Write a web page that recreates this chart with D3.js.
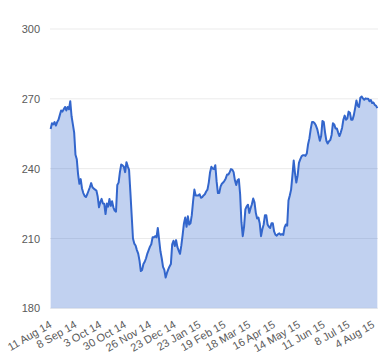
<!DOCTYPE html>
<html>
<head>
<meta charset="utf-8">
<script src="https://cdn.jsdelivr.net/npm/d3@7/dist/d3.min.js"></script>
<style>
  html, body { margin: 0; padding: 0; background: #fff; }
  svg { display: block; }
  text { font-family: Arial, "Liberation Sans", sans-serif; }
</style>
</head>
<body>
<svg id="chart" width="380" height="360"></svg>
<script>
// ---- data ----
const tickLabels = ["11 Aug 14","8 Sep 14","3 Oct 14","30 Oct 14","26 Nov 14","23 Dec 14",
  "23 Jan 15","19 Feb 15","18 Mar 15","16 Apr 15","14 May 15","11 Jun 15","8 Jul 15","4 Aug 15"];
const tickEvery = 19;
const yTicks = [180, 210, 240, 270, 300];
const prices = [
  257, 259.5, 259, 260, 258.5, 260, 261, 263, 265, 264.5,
  265.5, 266.5, 265, 266.5, 265.5, 269, 262.5, 259, 255.5, 246,
  244, 237.5, 233.5, 235.5, 231.5, 229.5, 228.3, 227.8, 229, 230.5,
  232, 233.8, 232, 231.4, 231, 230.6, 228, 223.4, 225.6, 227,
  225, 224.9, 220.5, 225, 223.7, 227, 224, 226, 223.4, 222,
  221.5, 233, 234, 238.5, 241.8, 241.4, 240.8, 238.5, 242.8, 241,
  239.5, 230, 220, 210, 207.8, 207, 205, 203.5, 200.5, 196,
  196.5, 199, 200, 201.5, 203.5, 205, 206.5, 207.5, 210.5, 210.5,
  211, 210.5, 214.5, 209.5, 204.5, 201.5, 197.8, 196.5, 193.2, 195.2,
  196.7, 198, 199, 207.5, 209, 206.8, 209.3, 206.3, 204.8, 203.4,
  207, 211.5, 216.5, 219, 215, 219.5, 216, 216.5, 220, 226,
  231, 228.5, 228.5, 228.5, 229, 227.5, 227.8, 228.5, 229, 230.2,
  231, 234, 238.5, 240.8, 240, 239.8, 241.5, 234.5, 229.5, 229.5,
  232.3, 233.5, 234, 234.8, 235.8, 237.5, 237.5, 238.5, 239.8, 239.6,
  238.5, 235, 233, 235, 235.5, 229, 217, 211, 215, 222.5,
  223.8, 224.5, 221, 223, 224.7, 227.2, 225.5, 221, 218.6, 219,
  216.5, 211, 214, 216, 220, 220, 216, 215, 214.5, 216.5,
  216.5, 213, 211.6, 211.2, 211.9, 212.2, 211.6, 211.9, 211.5, 214.8,
  216, 215.5, 226.3, 228.5, 231, 237, 243.5, 238, 234, 237,
  242.5, 244, 245.3, 245.8, 245.8, 245.5, 246.5, 250.5, 253, 257,
  260, 260, 259.5, 258.5, 257, 254.5, 252, 254, 260.5, 260,
  255.5, 252, 250.8, 251.8, 252.3, 254.5, 259.5, 259, 257.3, 257.3,
  255.5, 254, 255.5, 257.5, 261, 262.8, 261, 261.5, 264.5, 264,
  261, 261, 263, 266, 269.3, 267, 266.5, 270.5, 271, 270.2,
  269.6, 270.2, 270, 270, 269, 269.5, 268.2, 268.4, 267.4, 267,
  266
];

// ---- layout ----
const svg = d3.select("#chart");
const plot = { left: 50, right: 378, top: 29, bottom: 308.3 };

const idx = d3.range(prices.length);
const x = d3.scalePoint().domain(idx).range([plot.left, plot.right]).padding(0.5);
const y = d3.scaleLinear().domain([180, 300]).range([plot.bottom, plot.top]);

// gridlines
svg.append("g")
  .selectAll("line")
  .data(yTicks)
  .join("line")
  .attr("x1", plot.left).attr("x2", plot.right)
  .attr("y1", d => y(d)).attr("y2", d => y(d))
  .attr("stroke", "#ebebeb").attr("stroke-width", 1);

// area
const area = d3.area()
  .x((d, i) => x(i))
  .y0(y(180))
  .y1(d => y(d));
svg.append("path")
  .datum(prices)
  .attr("d", area)
  .attr("fill", "#3366cc")
  .attr("fill-opacity", 0.3);

// line
const line = d3.line()
  .x((d, i) => x(i))
  .y(d => y(d));
svg.append("path")
  .datum(prices)
  .attr("d", line)
  .attr("fill", "none")
  .attr("stroke", "#3366cc")
  .attr("stroke-width", 2)
  .attr("stroke-linejoin", "round");

// y axis
const yAxis = svg.append("g")
  .attr("transform", `translate(${plot.left},0)`)
  .call(d3.axisLeft(y).tickValues(yTicks).tickSize(0).tickPadding(10));
yAxis.select(".domain").remove();
yAxis.selectAll("text")
  .attr("fill", "#5a5a5a")
  .style("font-size", "11px");

// x axis
const tickIdx = tickLabels.map((_, k) => k * tickEvery);
const xAxis = svg.append("g")
  .attr("transform", `translate(0,${plot.bottom})`)
  .call(d3.axisBottom(x).tickValues(tickIdx).tickSize(0)
    .tickFormat(d => tickLabels[d / tickEvery]));
xAxis.select(".domain").remove();
xAxis.selectAll("text")
  .attr("x", 0).attr("y", 0).attr("dy", 0)
  .attr("text-anchor", "end")
  .attr("transform", "translate(1.5,18.5) rotate(-30)")
  .attr("fill", "#5a5a5a")
  .style("font-size", "11px");
</script>
</body>
</html>
